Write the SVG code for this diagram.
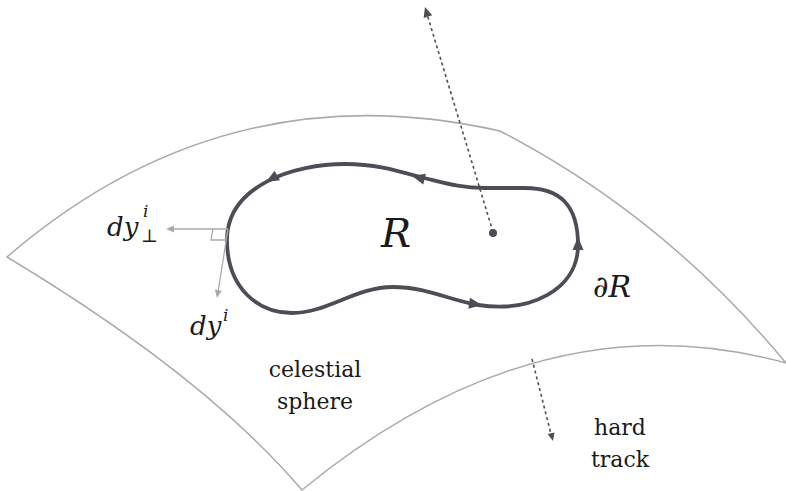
<svg xmlns="http://www.w3.org/2000/svg" width="786" height="491" viewBox="0 0 786 491">
<style>
.sphere{fill:none;stroke:#aaaaaa;stroke-width:1.5}
.loop{fill:none;stroke:#4b4f55;stroke-width:3.8;stroke-linejoin:round}
.dot{fill:none;stroke:#4b4f55;stroke-width:1.6;stroke-dasharray:3 3}
.thin{fill:none;stroke:#aaaaaa;stroke-width:1.3}
.ah{fill:#4b4f55}
.ahl{fill:#aaaaaa}
text{font-family:"DejaVu Serif",serif;fill:#1a1a1a}
.m{font-style:italic}
</style>
<defs>
<path id="big" d="M0,0 L-13,-5.5 L-13,5.5 Z"/>
<path id="small" d="M0,0 L-10,-4.5 L-10,4.5 Z"/>
<path id="tiny" d="M0,0 L-8,-3.5 L-8,3.5 Z"/>
</defs>
<g id="sphere">
<path class="sphere" d="M7,257 Q225,69 500,131 Q664,216 786,363 Q540,295 302,490 Q205,376 7,257 Z"/>
</g>
<g id="region">
<path class="loop" d="M227,240 C227,288 258,313 292,313 C328,313 355,287 393,287 C425,287 450,300 478,305 C530,313 578,290 578,245 C578,205 560,188 525,188 L485,188 C460,188 445,183 420,177 C395,170 375,164 345,164 C295,164 227,185 227,240 Z"/>
<use href="#big" class="ah" transform="translate(266,182) rotate(150)"/>
<use href="#big" class="ah" transform="translate(412,176) rotate(194)"/>
<use href="#big" class="ah" transform="translate(578,237) rotate(-90)"/>
<use href="#big" class="ah" transform="translate(482,305) rotate(8)"/>
<text class="m" x="396" y="247" font-size="40" text-anchor="middle">R</text>
</g>
<g id="boundary-label">
<text class="m" x="593" y="297" font-size="30">∂R</text>
</g>
<g id="connectors">
<path class="dot" d="M493,232 L427,14"/>
<use href="#small" class="ah" transform="translate(425,7) rotate(-107)"/>
<circle cx="493" cy="233" r="4" fill="#4b4f55"/>
<path class="dot" d="M532,359 L551,434"/>
<use href="#tiny" class="ah" transform="translate(553,441) rotate(76)"/>
<path class="thin" d="M228,229 L172,229"/>
<use href="#tiny" class="ahl" transform="translate(166,229) rotate(180)"/>
<path class="thin" d="M228,229 L218,292"/>
<use href="#tiny" class="ahl" transform="translate(217,298) rotate(99)"/>
<path class="thin" d="M213,229 L211,240 L226,240"/>
</g>
<g id="dy-perp">
<text class="m" x="107" y="236" font-size="26">dy</text>
<text class="m" x="143" y="217" font-size="17">i</text>
<text x="141" y="242" font-size="18">⊥</text>
</g>
<g id="dy">
<text class="m" x="190" y="335" font-size="26">dy</text>
<text class="m" x="223" y="321" font-size="17">i</text>
</g>
<g id="celestial-sphere">
<text x="315" y="377" font-size="22" text-anchor="middle">celestial</text>
<text x="315" y="409" font-size="22" text-anchor="middle">sphere</text>
</g>
<g id="hard-track">
<text x="620" y="435" font-size="22" text-anchor="middle">hard</text>
<text x="620" y="467" font-size="22" text-anchor="middle">track</text>
</g>
</svg>
